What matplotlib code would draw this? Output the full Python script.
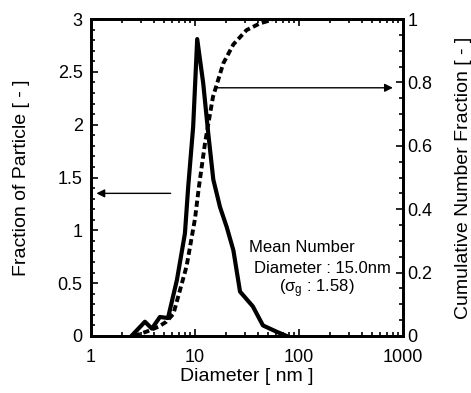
import numpy as np
import matplotlib.pyplot as plt
from matplotlib.ticker import MultipleLocator, LogLocator, NullFormatter

# --- Дані ---
diam_frac = [2.45, 3.3, 3.85, 4.6, 5.5, 6.7, 8.0, 8.6, 9.6, 10.5, 12.0, 13.4, 15.0, 17.4,
             20.2, 23.4, 27.1, 36, 45, 61, 76]
fraction = [0.0, 0.135, 0.07, 0.18, 0.17, 0.53, 0.97, 1.41, 1.98, 2.81, 2.39, 1.92, 1.48, 1.22,
            1.03, 0.81, 0.42, 0.28, 0.10, 0.04, 0.0]

diam_cum = [2.6, 3.5, 4.5, 5.3, 6.2, 8.3, 10.0, 10.9, 12.5, 14.9, 18.7, 23.4, 31.3, 42, 50.6, 56, 1000]
cumulative = [0.0, 0.015, 0.03, 0.045, 0.07, 0.22, 0.37, 0.47, 0.61, 0.755, 0.86, 0.92, 0.965, 0.986, 0.994, 1.0, 1.0]

x_ticks = [1, 10, 100, 1000]
y_ticks = [0, 0.5, 1, 1.5, 2, 2.5, 3]
y2_ticks = [0, 0.2, 0.4, 0.6, 0.8, 1]

plt.rcParams['font.family'] = ['Liberation Sans', 'DejaVu Sans']

TICK_FS = 13
LABEL_FS = 14

fig = plt.figure(figsize=(4.71, 3.93), dpi=100)
ax = fig.add_axes([91 / 471, 1 - 336 / 393, 312 / 471, 317 / 393])
ax2 = ax.twinx()

ax.plot(diam_frac, fraction, color='black', lw=3)
ax2.plot(diam_cum, cumulative, color='black', lw=2.8, ls=(0, (1.6, 0.9)))

ax.set_xscale('log')
ax.set_xlim(1, 1000)
ax.set_ylim(0, 3)
ax2.set_ylim(0, 1)

ax.set_xticks(x_ticks)
ax.set_xticklabels([f'{v:g}' for v in x_ticks])
ax.xaxis.set_minor_locator(LogLocator(base=10, subs=np.arange(2, 10)))
ax.xaxis.set_minor_formatter(NullFormatter())
ax.set_yticks(y_ticks)
ax.set_yticklabels([f'{v:g}' for v in y_ticks])
ax.yaxis.set_minor_locator(MultipleLocator(0.1))
ax2.set_yticks(y2_ticks)
ax2.set_yticklabels([f'{v:g}' for v in y2_ticks])
ax2.yaxis.set_minor_locator(MultipleLocator(0.05))

ax.tick_params(which='both', direction='in', top=True, labelsize=TICK_FS, width=1.2)
ax.tick_params(which='major', length=5)
ax.tick_params(which='minor', length=3)
ax.tick_params(axis='x', which='major', pad=9)
ax.tick_params(axis='y', which='major', pad=6)
ax2.tick_params(which='both', direction='in', labelsize=TICK_FS, width=1.2)
ax2.tick_params(which='major', length=5, pad=3)
ax2.tick_params(which='minor', length=3)
for a in (ax, ax2):
    for s in a.spines.values():
        s.set_linewidth(2)

ax.set_xlabel('Diameter [ nm ]', fontsize=LABEL_FS, labelpad=2)
ax.set_ylabel('Fraction of Particle [ - ]', fontsize=LABEL_FS, labelpad=20)
ax2.set_ylabel('Cumulative Number Fraction [ - ]', fontsize=LABEL_FS, labelpad=16)

# стрілки, що вказують на відповідні осі
ax.annotate('', xy=(1.06, 1.35), xytext=(6.2, 1.35),
            arrowprops=dict(arrowstyle='-|>', color='black', lw=1, mutation_scale=12))
ax2.annotate('', xy=(850, 0.783), xytext=(14.5, 0.783),
             arrowprops=dict(arrowstyle='-|>', color='black', lw=1, mutation_scale=12))

ax.text(106, 0.84, 'Mean Number', ha='center', va='center', fontsize=12)
ax.text(168, 0.64, 'Diameter : 15.0nm', ha='center', va='center', fontsize=12)
ax.text(148, 0.45, r'($\mathregular{\sigma_g}$ : 1.58)', ha='center', va='center', fontsize=12)

fig.savefig('out.png', dpi=100)
